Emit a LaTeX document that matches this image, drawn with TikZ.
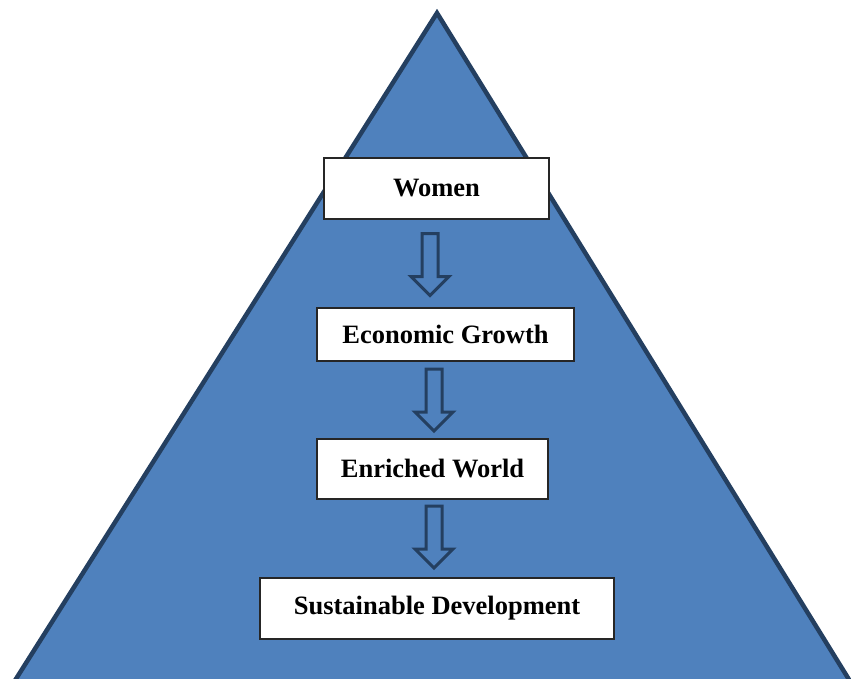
\documentclass[tikz,border=0pt]{standalone}
\usepackage{fontspec}
\setmainfont{Liberation Serif}
\usetikzlibrary{shapes.arrows}

\definecolor{pyrfill}{HTML}{4F81BD}
\definecolor{pyredge}{HTML}{243F60}

\tikzset{
  stagebox/.style={draw=black!85, line width=1.5pt, fill=white, inner sep=0pt,
    font=\bfseries\fontsize{26.5}{30}\selectfont},
  downarrow/.style={single arrow, draw=pyredge, fill=pyrfill, line width=3pt,
    shape border rotate=270, inner sep=6.5pt, minimum height=62pt,
    single arrow head extend=11pt}
}

\begin{document}
\begin{tikzpicture}[x=1pt,y=1pt]
                \useasboundingbox (0,0) rectangle (851,-679);
                \clip (0,0) rectangle (851,-679);

                % pyramid
                \draw[pyredge, fill=pyrfill, line width=4.5pt, line join=miter]
                    (437,-13) -- (-10,-720) -- (874,-720) -- cycle;

                % stages
                \node[stagebox, minimum width=225pt, minimum height=61pt] (women) at (436.5,-188.5) {Women};
                \node[stagebox, minimum width=257pt, minimum height=53pt] (growth) at (445.5,-334.5) {Economic Growth};
                \node[stagebox, minimum width=231pt, minimum height=60pt] (world) at (432.5,-469) {Enriched World};
                \node[stagebox, minimum width=354pt, minimum height=61pt] (sustain) at (437,-608.5) {Sustainable Development};

                % hollow arrows between stages
                \node[downarrow] (arrowa) at (430,-260.5) {};
                \node[downarrow] (arrowb) at (434,-396) {};
                \node[downarrow] (arrowc) at (434,-533) {};
\end{tikzpicture}
\end{document}
